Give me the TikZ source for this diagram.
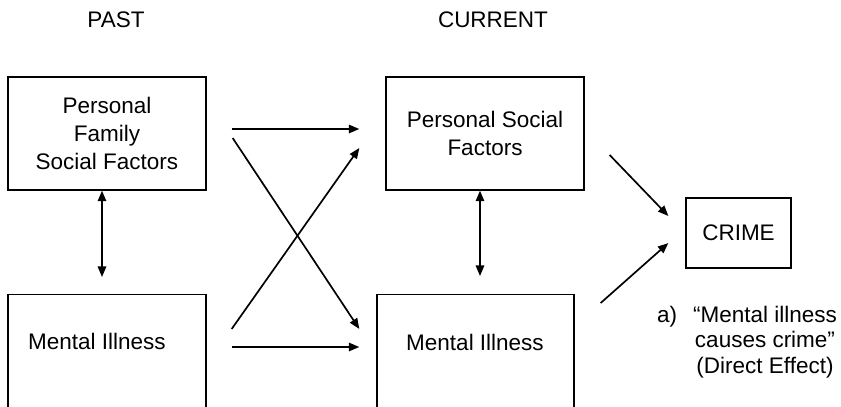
\documentclass[tikz,border=0pt]{standalone}
\usepackage{fontspec}
\setmainfont{Liberation Sans}
\usetikzlibrary{arrows.meta,calc}

\begin{document}
\begin{tikzpicture}[x=0.025cm,y=-0.025cm]
	\tikzstyle{every node}+=[inner sep=0pt,font=\fontsize{16}{19.8}\selectfont]
	\tikzstyle{box}=[draw=black,line width=0.9pt,align=center]
	\tikzstyle{arr}=[line width=1.2pt,-{Triangle[length=7.5pt,width=6pt]}]
	\tikzstyle{twoway}=[line width=1.2pt,{Triangle[length=7.5pt,width=6pt]}-{Triangle[length=7.5pt,width=6pt]}]
	\useasboundingbox (0,0) rectangle (841,407);
	\clip (0,0) rectangle (841,407);
	\node (past) at (116,19.5) {PAST};
	\node (current) at (493,19.5) {CURRENT};
	\node [box,minimum width=4.95cm,minimum height=2.825cm] (pfs) at (107,133.5) {Personal\\Family\\Social Factors};
	\node [box,minimum width=4.95cm,minimum height=2.825cm] (psf) at (485,133.5) {Personal Social\\Factors};
	\node [box,anchor=north,minimum width=4.95cm,minimum height=4cm] (mlp) at (107,294) {};
	\node (mlptext) at (97,341) {Mental Illness};
	\node [box,anchor=north,minimum width=4.925cm,minimum height=4cm] (mlc) at (475.5,294) {};
	\node (mlctext) at (475,342) {Mental Illness};
	\node [box,minimum width=2.625cm,minimum height=1.75cm] (crime) at (738.5,233) {CRIME};
	\node (capa) at (667,317) {a)};
	\node [align=center,font=\fontsize{16}{18.1}\selectfont] (capt) at (765,342) {“Mental illness\\causes crime”\\(Direct Effect)};
	\draw [twoway] ($(pfs.south)+(-5,0)$) -- ($(mlp.north)+(-5,-17)$);
	\draw [twoway] ($(psf.south)+(-5,0)$) -- ($(mlc.north)+(4.5,-18)$);
	\draw [arr] ($(pfs.east)+(25,-4.5)$) -- ($(psf.west)+(-26,-4.5)$);
	\draw [arr] ($(pfs.east)+(26,4.5)$) -- ($(mlc.north west)+(-17,35)$);
	\draw [arr] ($(mlp.north east)+(25,35)$) -- ($(psf.west)+(-26,14.5)$);
	\draw [arr] ($(mlp.north east)+(25,53)$) -- ($(mlc.north west)+(-17,53)$);
	\draw [arr] ($(psf.east)+(25,21.5)$) -- ($(crime.west)+(-17,-17)$);
	\draw [arr] ($(mlc.north east)+(26,9)$) -- ($(crime.west)+(-17,10)$);
\end{tikzpicture}
\end{document}
